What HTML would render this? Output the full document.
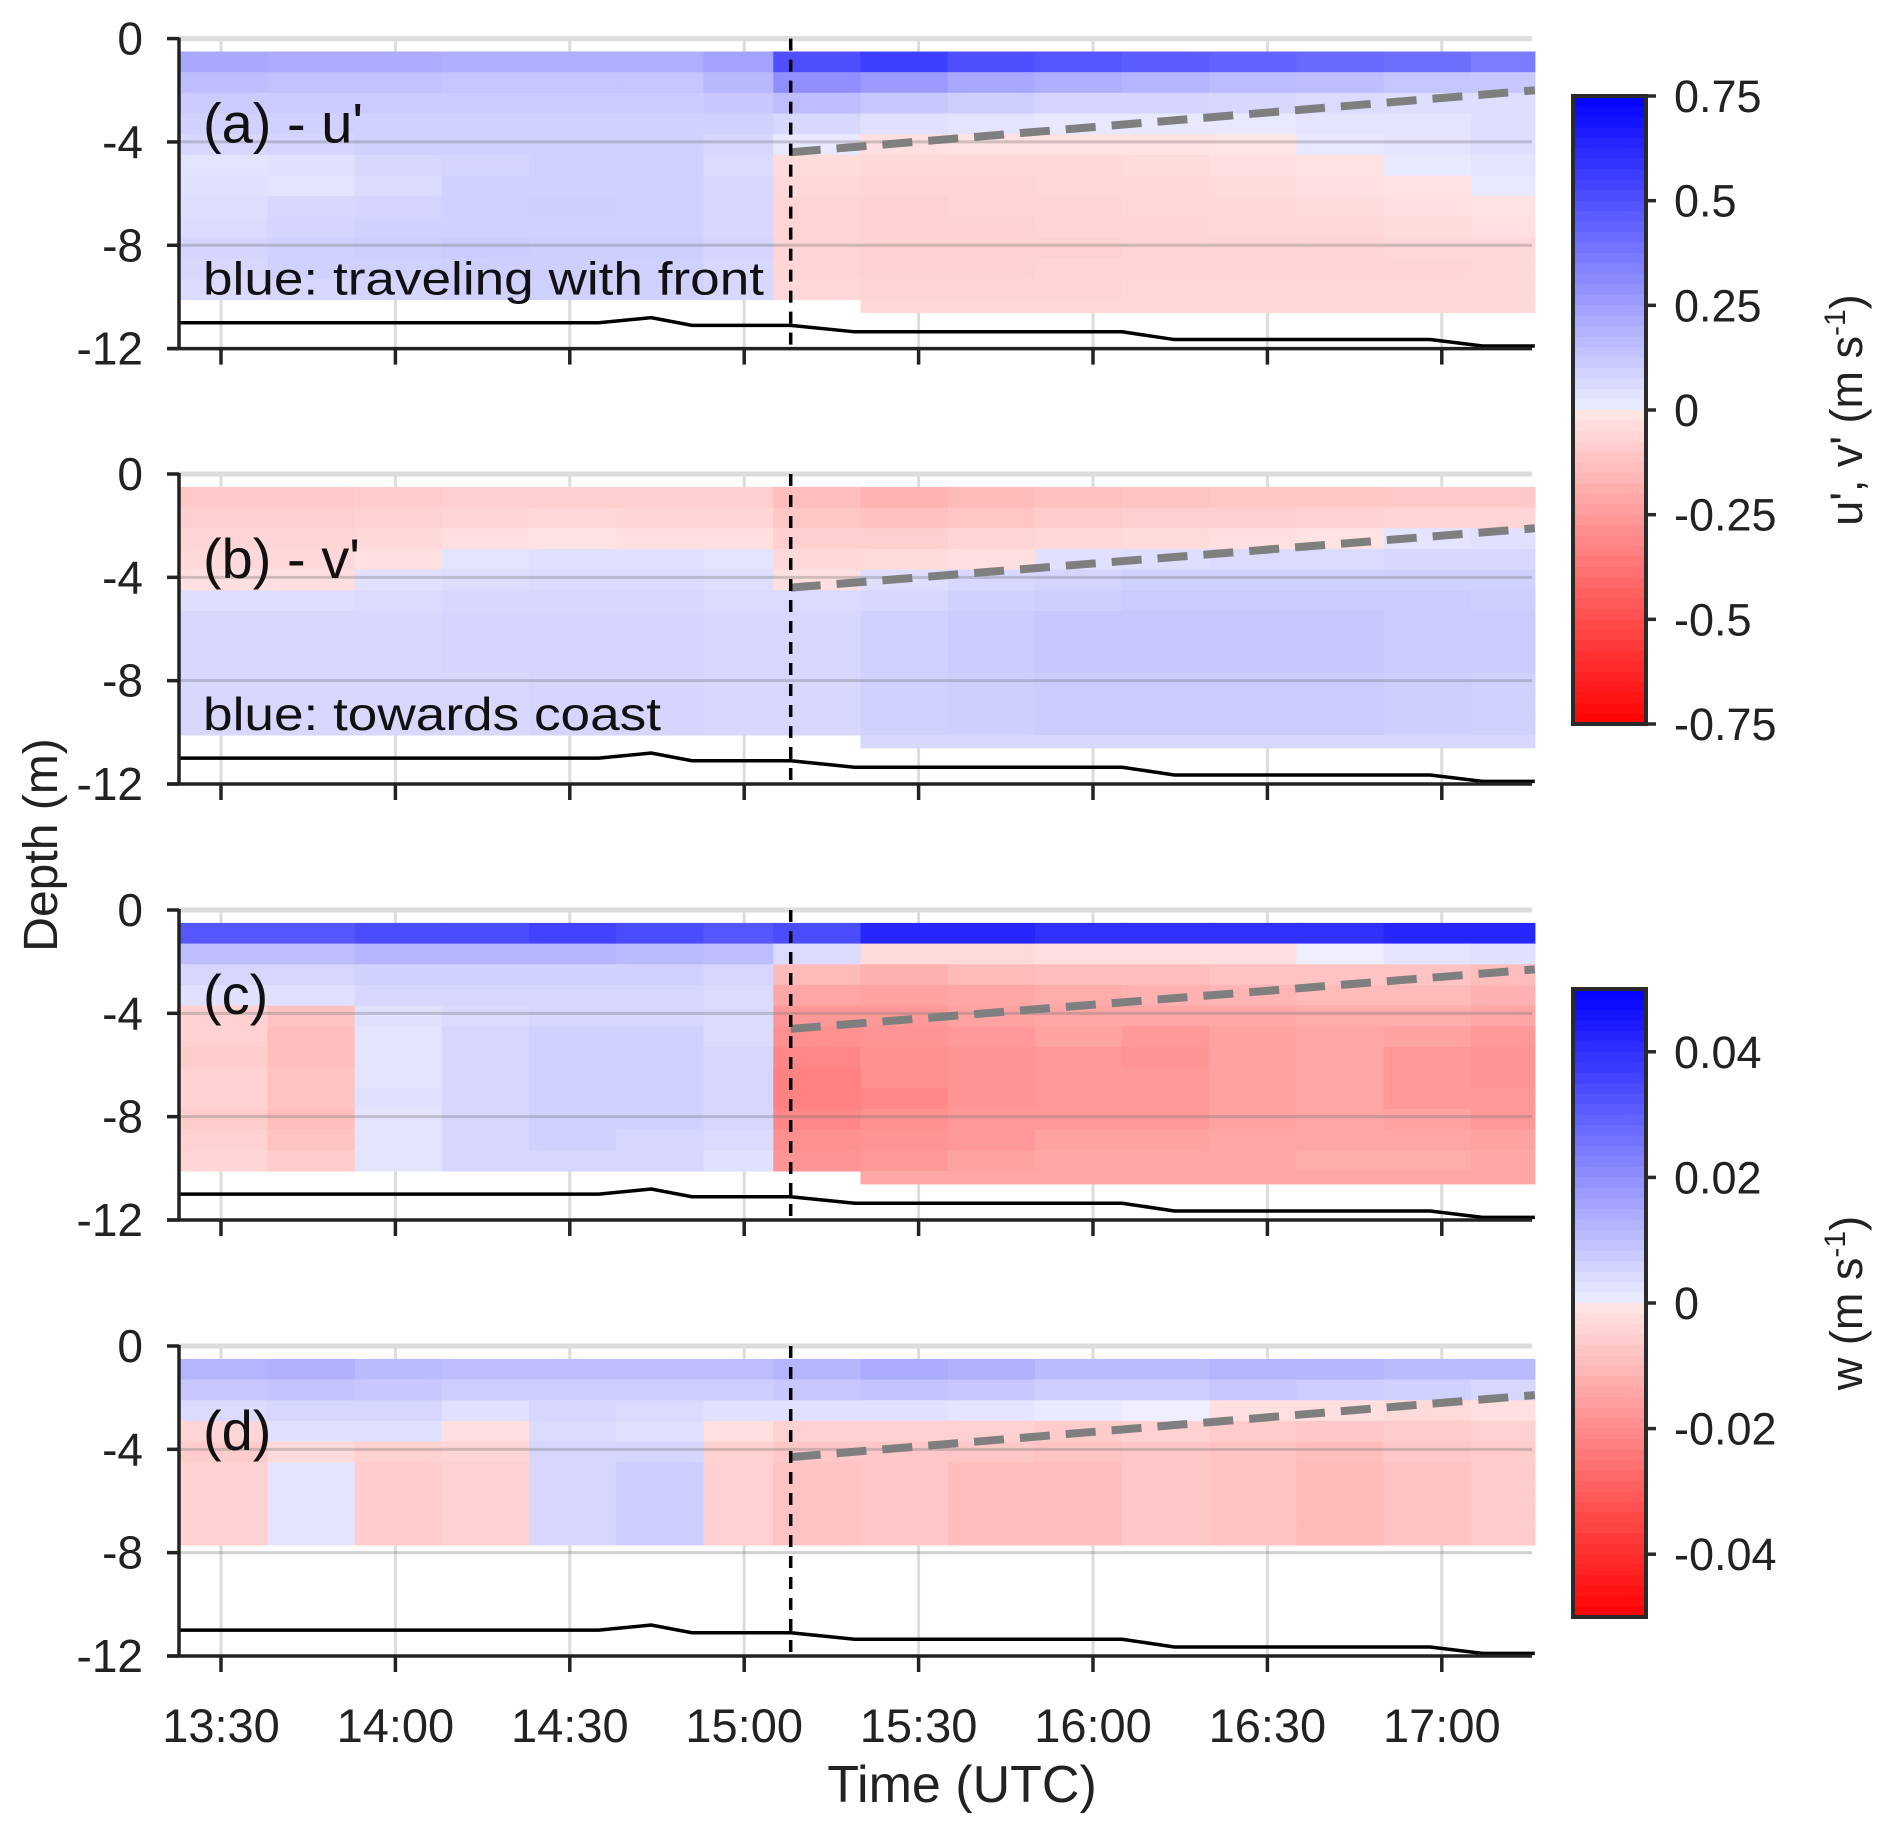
<!DOCTYPE html>
<html><head><meta charset="utf-8">
<style>
html,body{margin:0;padding:0;background:#fff;}
svg{display:block;font-family:"Liberation Sans",Arial,sans-serif;}
</style></head>
<body>
<svg id="fig" width="1892" height="1833" viewBox="0 0 1892 1833" xmlns="http://www.w3.org/2000/svg"></svg>
<script>
// ---- data ----
const colEdges = [23,38,53,68,83,98,113,125,140,155,170,185,200,215,230,245,256]; // minutes after 13:00
const rowEdges = [0.5,1.3,2.1,2.9,3.7,4.5,5.3,6.1,6.9,7.7,8.5,9.3,10.1,10.6]; // depth (m)
const N = null;
const uData = [
[.22,.21,.21,.2,.2,.2,.24,.5,.55,.5,.48,.46,.44,.42,.4,.36],
[.15,.14,.14,.13,.13,.13,.17,.3,.26,.22,.2,.18,.16,.15,.13,.12],
[.11,.11,.11,.11,.11,.11,.12,.15,.12,.1,.08,.08,.07,.06,.05,.05],
[.09,.09,.09,.09,.09,.09,.09,.07,.04,.03,.02,.02,.02,.03,.03,.05],
[.07,.08,.09,.09,.09,.09,.07,.02,-.03,-.02,-.02,-.02,-.01,.02,.03,.05],
[.03,.04,.07,.08,.09,.09,.06,-.04,-.05,-.05,-.05,-.04,-.03,-.02,.02,.03],
[.04,.03,.06,.09,.09,.09,.07,-.05,-.06,-.06,-.05,-.05,-.04,-.03,-.02,.02],
[.05,.07,.08,.09,.1,.09,.07,-.06,-.07,-.06,-.06,-.05,-.05,-.04,-.03,-.02],
[.06,.08,.09,.09,.09,.09,.07,-.06,-.07,-.07,-.06,-.06,-.05,-.05,-.04,-.03],
[.08,.09,.1,.11,.1,.1,.08,-.06,-.07,-.07,-.07,-.06,-.06,-.06,-.05,-.05],
[.07,.09,.09,.1,.1,.09,.07,-.06,-.07,-.07,-.06,-.06,-.06,-.06,-.06,-.05],
[.06,.07,.08,.09,.09,.09,.07,-.05,-.06,-.06,-.06,-.05,-.05,-.05,-.05,-.05],
[N,N,N,N,N,N,N,N,-.05,-.05,-.05,-.05,-.05,-.05,-.05,-.05]];
const vData = [
[-.1,-.1,-.09,-.08,-.08,-.08,-.08,-.14,-.17,-.15,-.13,-.12,-.11,-.11,-.1,-.1],
[-.08,-.08,-.07,-.06,-.05,-.06,-.06,-.11,-.13,-.11,-.09,-.08,-.08,-.07,-.06,-.06],
[-.06,-.06,-.05,-.03,-.02,-.03,-.03,-.08,-.08,-.06,-.05,-.04,-.03,-.02,.03,.04],
[-.05,-.05,-.03,.03,.04,.04,.03,-.05,-.04,-.03,.04,.05,.06,.06,.07,.07],
[-.03,-.03,.04,.05,.06,.06,.05,-.03,.05,.07,.08,.09,.09,.09,.09,.09],
[.05,.05,.06,.07,.07,.07,.06,.06,.07,.09,.1,.11,.11,.11,.11,.1],
[.07,.07,.07,.08,.08,.08,.07,.07,.09,.11,.12,.12,.12,.12,.11,.11],
[.07,.07,.07,.08,.08,.08,.07,.07,.09,.11,.12,.12,.12,.12,.11,.11],
[.07,.07,.07,.08,.08,.08,.07,.07,.09,.11,.12,.12,.12,.12,.11,.11],
[.07,.07,.07,.07,.08,.08,.07,.07,.09,.1,.11,.11,.11,.11,.1,.09],
[.07,.07,.07,.07,.08,.08,.07,.07,.09,.1,.11,.11,.11,.11,.1,.09],
[.07,.07,.07,.07,.08,.08,.07,.07,.09,.1,.11,.11,.11,.11,.1,.09],
[N,N,N,N,N,N,N,N,.07,.07,.07,.07,.07,.07,.07,.07]];
const wData = [
[.032,.032,.034,.034,.036,.034,.032,.034,.042,.042,.04,.04,.04,.04,.042,.042],
[.01,.01,.012,.012,.012,.011,.01,.004,-.003,-.003,-.002,-.002,-.002,0,.002,.003],
[.005,.005,.006,.006,.006,.006,.005,-.01,-.012,-.01,-.009,-.009,-.008,-.008,-.008,-.009],
[.003,.003,.005,.005,.005,.005,.004,-.014,-.015,-.014,-.013,-.012,-.011,-.01,-.01,-.012],
[-.005,-.008,.003,.004,.005,.005,.004,-.017,-.017,-.015,-.014,-.014,-.014,-.013,-.013,-.014],
[-.005,-.009,.002,.005,.006,.006,.004,-.019,-.018,-.017,-.015,-.017,-.015,-.014,-.015,-.017],
[-.006,-.009,.002,.005,.006,.006,.005,-.021,-.019,-.018,-.017,-.018,-.015,-.014,-.017,-.018],
[-.005,-.008,.002,.005,.006,.006,.005,-.022,-.019,-.018,-.017,-.017,-.015,-.014,-.017,-.018],
[-.005,-.008,.003,.005,.006,.006,.005,-.022,-.021,-.018,-.017,-.017,-.015,-.014,-.017,-.017],
[-.006,-.009,.002,.005,.006,.006,.005,-.021,-.019,-.017,-.017,-.017,-.015,-.014,-.015,-.017],
[-.005,-.008,.002,.005,.006,.005,.004,-.019,-.018,-.017,-.015,-.015,-.014,-.014,-.014,-.015],
[-.004,-.006,.002,.005,.005,.005,.003,-.018,-.017,-.015,-.014,-.014,-.014,-.013,-.013,-.014],
[N,N,N,N,N,N,N,N,-.014,-.014,-.014,-.014,-.014,-.014,-.014,-.014]];
const wAvgData = [
[.012,.013,.011,.01,.01,.01,.01,.012,.014,.013,.011,.011,.012,.012,.011,.011],
[.008,.009,.008,.007,.007,.007,.007,.008,.009,.008,.007,.007,.008,.007,.006,.005],
[.004,.005,.005,.003,.005,.004,.003,.003,.003,.002,.001,0,-.002,-.002,-.003,-.002],
[-.004,.003,.003,-.002,.004,.003,-.002,-.005,-.005,-.005,-.006,-.005,-.006,-.007,-.006,-.005],
[-.006,-.003,-.005,-.004,.005,.005,-.005,-.007,-.007,-.007,-.008,-.007,-.008,-.009,-.007,-.006],
[-.005,.002,-.006,-.005,.005,.007,-.005,-.008,-.007,-.009,-.009,-.007,-.008,-.01,-.008,-.006],
[-.005,.002,-.006,-.005,.005,.007,-.005,-.008,-.007,-.009,-.009,-.007,-.008,-.01,-.008,-.006],
[-.005,.002,-.006,-.005,.005,.007,-.005,-.008,-.007,-.009,-.009,-.007,-.008,-.01,-.008,-.006],
[-.005,.002,-.006,-.005,.005,.007,-.005,-.008,-.007,-.009,-.009,-.007,-.008,-.01,-.008,-.006],
[N,N,N,N,N,N,N,N,N,N,N,N,N,N,N,N],
[N,N,N,N,N,N,N,N,N,N,N,N,N,N,N,N],
[N,N,N,N,N,N,N,N,N,N,N,N,N,N,N,N],
[N,N,N,N,N,N,N,N,N,N,N,N,N,N,N,N]];
const bottomTimes = [23,95,104,111,128,139,185,194,238,247,256];
const bottomDepth = [11.0,11.0,10.8,11.1,11.1,11.35,11.35,11.65,11.65,11.9,11.9];
const frontTime = 128;
const layerStart = [4.4,4.4,4.6,4.3];
const layerEnd = [2.0,2.1,2.3,1.9];
const xTickTimes = [30,60,90,120,150,180,210,240];
const xTickLabels = ["13:30","14:00","14:30","15:00","15:30","16:00","16:30","17:00"];
const yTicks = [0,4,8,12];
const yTickLabels = ["0","-4","-8","-12"];
const uvCbTicks = [0.75,0.5,0.25,0,-0.25,-0.5,-0.75];
const uvCbLabels = ["0.75","0.5","0.25","0","-0.25","-0.5","-0.75"];
const wCbTicks = [0.04,0.02,0,-0.02,-0.04];
const wCbLabels = ["0.04","0.02","0","-0.02","-0.04"];

// ---- layout ----
const NS="http://www.w3.org/2000/svg";
const svg=document.getElementById('fig');
const X0=179, X1=1532, PH=310;
const panelTops=[38.6,474,910,1346];
function xs(t){return 221+(t-30)*174.4/30;}
function ys(top,d){return top+d*PH/12;}
function el(tag,attrs,parent){const e=document.createElementNS(NS,tag);for(const k in attrs)e.setAttribute(k,attrs[k]);(parent||svg).appendChild(e);return e;}
function cmap(v,max){let f=Math.max(-1,Math.min(1,v/max));
  if(f>=0){const r=Math.round(238*(1-f));return `rgb(${r},${r},255)`;}
  f=-f;const g=Math.round(232*(1-f));return `rgb(255,${g},${g})`;}

const panels=[
 {data:uData,max:0.75,label:"(a) - u'",note:"blue: traveling with front",name:'panel-a-u'},
 {data:vData,max:0.75,label:"(b) - v'",note:"blue: towards coast",name:'panel-b-v'},
 {data:wData,max:0.05,label:"(c)",note:null,name:'panel-c-w'},
 {data:wAvgData,max:0.05,label:"(d)",note:null,name:'panel-d-w'}];

panels.forEach((p,pi)=>{
  const top=panelTops[pi];
  const g=el('g',{});
  
  
  xTickTimes.forEach(t=>{const l=el('line',{x1:xs(t),x2:xs(t),y1:top,y2:top+PH,stroke:'#dcdcdc','stroke-width':3},g);
    });
  const hm=el('g',{},g);
  
  p.data.forEach((row,ri)=>row.forEach((v,ci)=>{
    if(v===null)return;
    const x=xs(colEdges[ci]), x2=xs(colEdges[ci+1]);
    const y=ys(top,rowEdges[ri]), y2=ys(top,rowEdges[ri+1]);
    const r=el('rect',{x:x,y:y,width:x2-x+0.6,height:y2-y+0.6,fill:cmap(v,p.max)},hm);
    
  }));
  yTicks.slice(0,3).forEach(d=>{const l=el('line',{x1:X0,x2:X1,y1:ys(top,d),y2:ys(top,d),stroke:d===0?'#dcdcdc':'rgba(120,120,120,0.35)','stroke-width':d===0?5:3},g);
    });
  const pts=bottomTimes.map((t,i)=>xs(t)+','+ys(top,bottomDepth[i])).join(' ');
  const bl=el('polyline',{points:pts,fill:'none',stroke:'#000','stroke-width':3.5},g);
  
  const ll=el('line',{x1:xs(frontTime),y1:ys(top,layerStart[pi]),x2:xs(256),y2:ys(top,layerEnd[pi]),stroke:'#7f7f7f','stroke-width':8,'stroke-dasharray':'30 16'},g);
  
  const fl=el('line',{x1:xs(frontTime),x2:xs(frontTime),y1:top,y2:top+PH,stroke:'#000','stroke-width':3.5,'stroke-dasharray':'12 9'},g);
  
  const ya=el('line',{x1:X0,x2:X0,y1:top-1,y2:top+PH,stroke:'#222','stroke-width':3.5},g);
  
  const xa=el('line',{x1:X0-12,x2:X1,y1:top+PH,y2:top+PH,stroke:'#222','stroke-width':3.5},g);
  
  yTicks.forEach((d,i)=>{
    const tk=el('line',{x1:X0-12,x2:X0,y1:ys(top,d),y2:ys(top,d),stroke:'#222','stroke-width':3.5},g);
    
    const tx=el('text',{x:143,y:ys(top,d)+16,'text-anchor':'end','font-size':46,fill:'#222'},g);
    tx.textContent=yTickLabels[i];
    
  });
  xTickTimes.forEach(t=>{const tk=el('line',{x1:xs(t),x2:xs(t),y1:top+PH,y2:top+PH+16,stroke:'#222','stroke-width':3.5},g);
    });
  const lb=el('text',{x:203,y:top+104,'font-size':56,fill:'#111'},g);
  lb.textContent=p.label;
  
  if(p.note){const nt=el('text',{x:203,y:top+256,'font-size':46,fill:'#111',textLength:pi===0?561:458,lengthAdjust:'spacingAndGlyphs'},g);
    nt.textContent=p.note;
    }
});

xTickTimes.forEach((t,i)=>{const tx=el('text',{x:xs(t),y:1742,'text-anchor':'middle','font-size':47,fill:'#222'});
  tx.textContent=xTickLabels[i];
  });
const xt=el('text',{x:962,y:1802,'text-anchor':'middle','font-size':52,fill:'#222'});
xt.textContent='Time (UTC)';

const yt=el('text',{x:0,y:0,'text-anchor':'middle','font-size':48,fill:'#222',transform:'translate(57,845) rotate(-90)'});
yt.textContent='Depth (m)';


function colorbar(y0,y1,max,ticks,labels,title,name){
  const g=el('g',{});
  
  const x0=1573,x1=1646,n=60;
  const cy=v=>y0+(max-v)/(2*max)*(y1-y0);
  for(let i=0;i<n;i++){
    const v=max-(i+0.5)*(2*max/n);
    el('rect',{x:x0,y:y0+i*(y1-y0)/n,width:x1-x0,height:(y1-y0)/n+0.8,fill:cmap(v,max)},g);
  }
  const fr=el('rect',{x:x0,y:y0,width:x1-x0,height:y1-y0,fill:'none',stroke:'#2a2a2a','stroke-width':4},g);
  
  ticks.forEach((v,i)=>{
    const tk=el('line',{x1:x1,x2:x1+10,y1:cy(v),y2:cy(v),stroke:'#2a2a2a','stroke-width':3.5},g);
    
    const tx=el('text',{x:1674,y:cy(v)+16,'font-size':45,fill:'#222'},g);
    tx.textContent=labels[i];
    
  });
  const t=el('text',{x:0,y:0,'text-anchor':'middle','font-size':45,fill:'#222',transform:`translate(1862,${(y0+y1)/2}) rotate(-90)`},g);
  t.innerHTML=title+' (m s<tspan dy="-17" font-size="30">-1</tspan><tspan dy="17">)</tspan>';
  
}
colorbar(96,724,0.75,uvCbTicks,uvCbLabels,"u', v'",'colorbar-uv');
colorbar(989,1617,0.05,wCbTicks,wCbLabels,"w",'colorbar-w');
</script>
</body></html>
